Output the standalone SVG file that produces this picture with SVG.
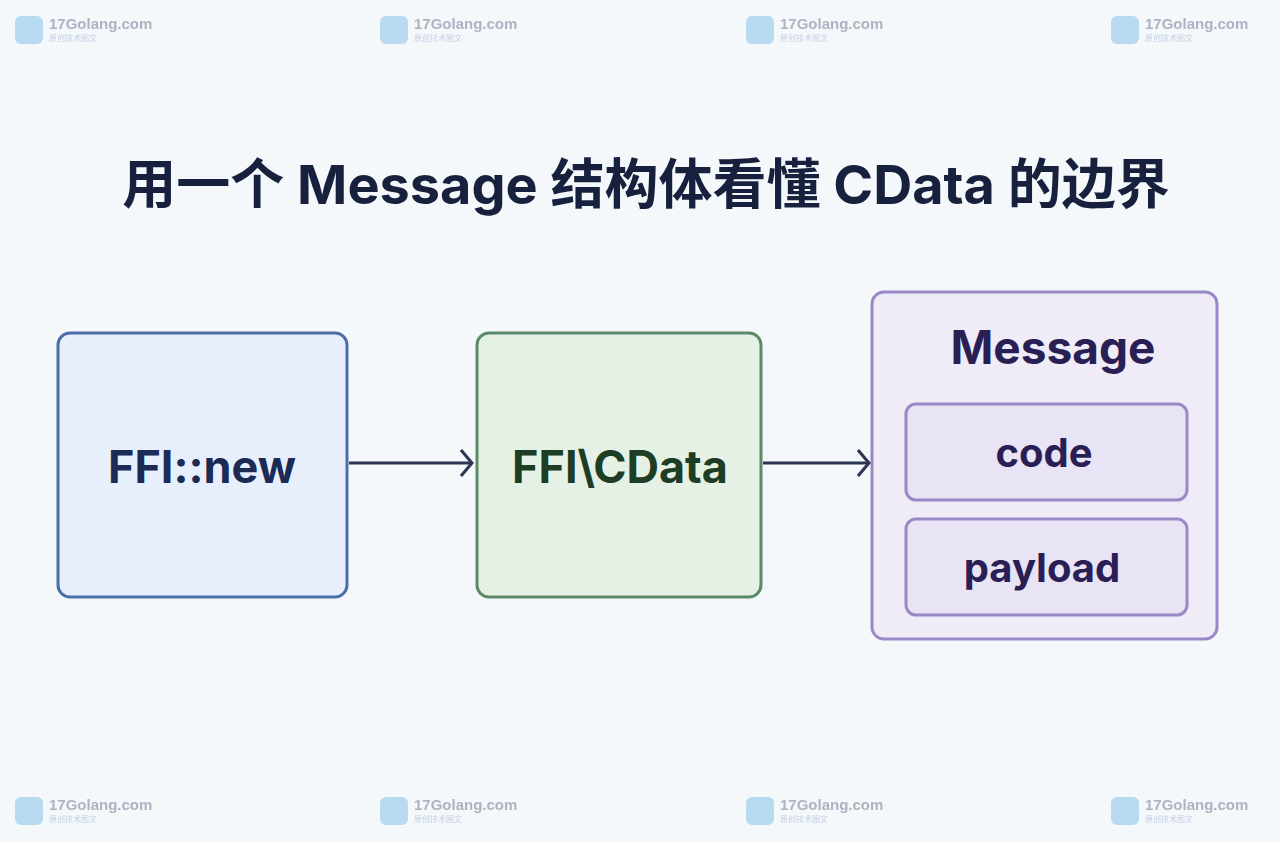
<svg xmlns="http://www.w3.org/2000/svg" width="1280" height="842" viewBox="0 0 1280 842">
<defs>
<style>
.t{font-family:Inter,"Noto Sans CJK SC",sans-serif;font-weight:700;text-anchor:middle}
.wm{font-family:"Liberation Sans",sans-serif;font-weight:700;font-size:15px;fill:#9aa3b5}
.ws{font-family:"Noto Sans CJK SC",sans-serif;font-size:8px;fill:#b5c4e0}
.c{stroke:#2c3552;stroke-width:3;fill:none}
</style>
<marker id="a" viewBox="0 0 14 28" refX="12" refY="14" markerWidth="14" markerHeight="28" markerUnits="userSpaceOnUse" orient="auto"><path d="M1 1 L12 14 L1 27" fill="none" stroke="#2c3552" stroke-width="3"/></marker>
<g id="w"><rect x="0" y="0" width="28" height="28" rx="6" fill="#a9d3ee"/><text x="34" y="13" class="wm">17Golang.com</text><text x="34" y="25" class="ws">原创技术图文</text></g>
</defs>
<rect width="1280" height="842" fill="#f5f8fb"/>
<g opacity="0.8">
<use href="#w" x="15" y="16"/><use href="#w" x="380" y="16"/><use href="#w" x="746" y="16"/><use href="#w" x="1111" y="16"/>
<use href="#w" x="15" y="797"/><use href="#w" x="380" y="797"/><use href="#w" x="746" y="797"/><use href="#w" x="1111" y="797"/>
</g>
<text x="646" y="204" class="t" font-size="54" fill="#17213d">用一个 Message 结构体看懂 CData 的边界</text>
<g id="n1"><rect x="58" y="333" width="289" height="264" rx="12" fill="#e6effb" stroke="#4b6ea8" stroke-width="3"/><text x="202" y="483" class="t" font-size="45" fill="#1b2b55">FFI::new</text></g>
<g id="n2"><rect x="477" y="333" width="284" height="264" rx="12" fill="#e6f1e6" stroke="#5a8a68" stroke-width="3"/><text x="620" y="483" class="t" font-size="45" fill="#1d3d25">FFI\CData</text></g>
<g id="n3"><rect x="872" y="292" width="345" height="347" rx="12" fill="#efecf8" stroke="#9b88c8" stroke-width="3"/><text x="1053" y="364" class="t" font-size="46" fill="#2a1f55">Message</text></g>
<g id="n4"><rect x="906" y="404" width="281" height="96" rx="10" fill="#e8e3f5" stroke="#9b88c8" stroke-width="3"/><text x="1044" y="467" class="t" font-size="40" fill="#2a1f55">code</text></g>
<g id="n5"><rect x="906" y="519" width="281" height="96" rx="10" fill="#e8e3f5" stroke="#9b88c8" stroke-width="3"/><text x="1042" y="582" class="t" font-size="40" fill="#2a1f55">payload</text></g>
<g id="connectors">
<line x1="349" y1="463" x2="472" y2="463" class="c" marker-end="url(#a)"/>
<line x1="763" y1="463" x2="869" y2="463" class="c" marker-end="url(#a)"/>
</g>
</svg>
